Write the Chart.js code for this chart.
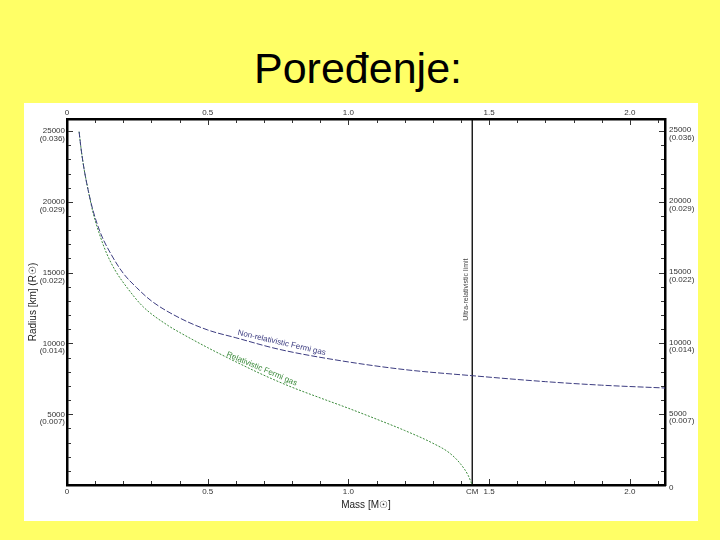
<!DOCTYPE html>
<html><head><meta charset="utf-8">
<script src="https://cdn.jsdelivr.net/npm/chart.js@4.4.0/dist/chart.umd.min.js"></script>
<style>
html,body{margin:0;padding:0;width:720px;height:540px;background:#ffff66;overflow:hidden;font-family:"Liberation Sans",Arial,sans-serif;}
#title{position:absolute;left:0;top:47px;width:716px;text-align:center;font-size:43px;line-height:43px;color:#000;}
#panel{position:absolute;left:24px;top:103px;width:674px;height:418px;background:#fff;}
canvas{display:block;}
</style></head><body>
<div id="title">Poređenje:</div>
<div id="panel"><canvas id="c" width="674" height="418"></canvas></div>
<script>
// ---- data ----
const massNonRel   = [0.043,0.05,0.06,0.076,0.093,0.12,0.158,0.2,0.247,0.3,0.4,0.5,0.6,0.75,0.95,1.2,1.44,1.7,1.9,2.125];
const radiusNonRel = [24950,23750,22400,20750,19350,17750,16250,14950,13950,13000,11800,10950,10400,9600,8850,8150,7720,7300,7050,6850];
const massRel      = [0.043,0.05,0.06,0.076,0.093,0.12,0.141,0.17,0.217,0.27,0.36,0.4,0.5,0.6,0.7,0.8,0.9,1.0,1.1,1.2,1.3,1.36,1.4,1.425,1.44];
const radiusRel    = [24950,23750,22400,20750,19200,17450,16350,15200,13850,12600,11250,10780,9700,8700,7750,6900,6150,5420,4650,3850,2950,2250,1450,700,0];
const limitMass    = [1.44,1.44];
const limitRadius  = [0,25850];
const xTopTicks    = [0,0.5,1.0,1.5,2.0];
const xTopLabels   = ['0','0.5','1.0','1.5','2.0'];
const xBottomTicks = [0,0.5,1.0,1.44,1.5,2.0];
const xBottomLabels= ['0','0.5','1.0','CM','1.5','2.0'];
const yTicks       = [0,5000,10000,15000,20000,25000];
const ySolarLabels = ['','(0.007)','(0.014)','(0.022)','(0.029)','(0.036)'];
const X_MAX = 2.125, Y_MAX = 25850;

const zip = (xs, ys) => xs.map((x,i)=>({x:x, y:ys[i]}));

const curveLabels = [
  {text:'Non-relativistic Fermi gas', m:0.763, r:10042, angle:13, color:'#3c3c80', size:8, dx:0},
  {text:'Relativistic Fermi gas', m:0.692, r:8204, angle:23, color:'#3a8a3a', size:8, dx:0},
  {text:'Ultra-relativistic limit', m:1.44, r:13800, angle:-90, color:'#444', size:7, dx:-6}
];

const inwardTicks = {
  id:'inwardTicks',
  afterDraw(chart){
    const {ctx, chartArea:a, scales} = chart;
    ctx.save();
    ctx.strokeStyle = '#333'; ctx.lineWidth = 1;
    const seg=(x1,y1,x2,y2)=>{ctx.beginPath();ctx.moveTo(x1,y1);ctx.lineTo(x2,y2);ctx.stroke();};
    for (let i=1;i<=21;i++){
      const px = Math.round(scales.x.getPixelForValue(i/10))+0.5;
      const L = (i%5===0)?5:3;
      seg(px,a.top+1,px,a.top+1+L);
      seg(px,a.bottom-1,px,a.bottom-1-L);
    }
    for (let v=1000; v<=25000; v+=1000){
      const py = Math.round(scales.y.getPixelForValue(v))+0.5;
      const L = (v%5000===0)?5:3;
      seg(a.left+1,py,a.left+1+L,py);
      seg(a.right-1,py,a.right-1-L,py);
    }
    curveLabels.forEach(l=>{
      const px = scales.x.getPixelForValue(l.m)+l.dx;
      const py = scales.y.getPixelForValue(l.r);
      ctx.save();
      ctx.translate(px,py);
      ctx.rotate(l.angle*Math.PI/180);
      ctx.font = l.size+'px "Liberation Sans", Arial, sans-serif';
      ctx.fillStyle = l.color;
      ctx.textAlign='center'; ctx.textBaseline='middle';
      ctx.fillText(l.text,0,0);
      ctx.restore();
    });
    ctx.restore();
  }
};

const tickFont = {family:'"Liberation Sans", Arial, sans-serif', size:8, lineHeight:0.95};
const border = {display:true, color:'#000', width:2.5};

new Chart(document.getElementById('c'), {
  type:'line',
  data:{datasets:[
    {label:'Non-relativistic Fermi gas', data:zip(massNonRel,radiusNonRel), borderColor:'#3c3c80', borderWidth:1, borderDash:[6,2], pointRadius:0, cubicInterpolationMode:'monotone', fill:false, xAxisID:'x', yAxisID:'y'},
    {label:'Relativistic Fermi gas', data:zip(massRel,radiusRel), borderColor:'#3a8a3a', borderWidth:1, borderDash:[2,1.5], pointRadius:0, cubicInterpolationMode:'monotone', fill:false, xAxisID:'x', yAxisID:'y'},
    {label:'Ultra-relativistic limit', data:zip(limitMass,limitRadius), borderColor:'#000', borderWidth:1.3, pointRadius:0, fill:false, xAxisID:'x', yAxisID:'y'}
  ]},
  options:{
    responsive:false, animation:false, maintainAspectRatio:false,
    layout:{padding:0},
    plugins:{legend:{display:false}, tooltip:{enabled:false}},
    scales:{
      x:{type:'linear', position:'bottom', min:0, max:X_MAX,
        afterBuildTicks:s=>{s.ticks = xBottomTicks.map(v=>({value:v}));},
        afterFit:s=>{s.height=36;},
        grid:{display:false, drawTicks:false}, border:border,
        ticks:{autoSkip:false, maxRotation:0, padding:3, color:'#333', font:tickFont, callback:(v,i)=>xBottomLabels[i]},
        title:{display:true, text:'Mass [M☉]', color:'#222', font:{family:'"Liberation Sans", Arial, sans-serif', size:10}, padding:{top:0,bottom:10}}
      },
      x2:{type:'linear', position:'top', min:0, max:X_MAX,
        afterBuildTicks:s=>{s.ticks = xTopTicks.map(v=>({value:v}));},
        afterFit:s=>{s.height=16;},
        grid:{display:false, drawTicks:false}, border:border,
        ticks:{autoSkip:false, maxRotation:0, padding:2, color:'#333', font:tickFont, callback:(v,i)=>xTopLabels[i]}
      },
      y:{type:'linear', position:'left', min:0, max:Y_MAX,
        afterBuildTicks:s=>{s.ticks = yTicks.map(v=>({value:v}));},
        afterFit:s=>{s.width=43;},
        grid:{display:false, drawTicks:false}, border:border,
        ticks:{autoSkip:false, padding:2, labelOffset:4, color:'#333', font:tickFont, callback:(v,i)=> i===0 ? '' : [String(yTicks[i]), ySolarLabels[i]]},
        title:{display:true, text:'Radius [km] (R☉)', color:'#222', font:{family:'"Liberation Sans", Arial, sans-serif', size:10}, padding:{top:3,bottom:0}}
      },
      y2:{type:'linear', position:'right', min:0, max:Y_MAX,
        afterBuildTicks:s=>{s.ticks = yTicks.map(v=>({value:v}));},
        afterFit:s=>{s.width=33;},
        grid:{display:false, drawTicks:false}, border:border,
        ticks:{autoSkip:false, padding:4, labelOffset:3, color:'#333', font:tickFont, callback:(v,i)=> i===0 ? '0' : [String(yTicks[i]), ySolarLabels[i]]}
      }
    }
  },
  plugins:[inwardTicks]
});
</script>
</body></html>
